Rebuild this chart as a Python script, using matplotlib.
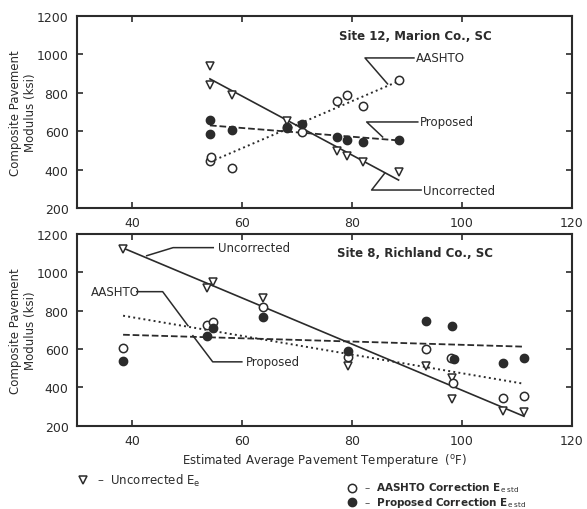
import matplotlib.pyplot as plt
from matplotlib.lines import Line2D

# Site 12, Marion Co., SC
s12_temp = [54.2, 54.2, 58.2, 68.2, 70.9, 77.3, 79.1, 82.0, 88.5]
s12_uncorr = [940, 840, 789, 653, 625, 497, 471, 440, 388]
s12_aashto_t = [54.2, 54.4, 58.2, 68.2, 70.9, 77.3, 79.1, 82.0, 88.5]
s12_aashto = [445, 465, 408, 620, 596, 757, 789, 731, 867]
s12_prop = [658, 585, 606, 617, 637, 570, 554, 544, 554]
s12_fit_x = [54.2, 88.5]
s12_fit_uncorr = [872, 346]
s12_fit_aashto = [440, 860]
s12_fit_prop = [630, 552]

# Site 8, Richland Co., SC
s8_tri_t = [38.4, 53.6, 54.7, 63.8, 79.3, 93.5, 98.2, 98.2, 107.5, 111.3]
s8_uncorr = [1122, 919, 950, 867, 512, 512, 450, 341, 278, 273]
s8_open_t = [38.4, 53.6, 54.7, 63.8, 79.3, 93.5, 98.0, 98.4, 107.5, 111.3]
s8_aashto = [606, 726, 740, 820, 560, 601, 554, 424, 346, 357]
s8_fill_t = [38.4, 53.6, 54.7, 63.8, 79.3, 93.5, 98.2, 98.6, 107.5, 111.3]
s8_prop = [539, 669, 710, 768, 591, 747, 721, 549, 528, 554]
s8_fit_x = [38.4, 111.3]
s8_fit_uncorr = [1125, 250]
s8_fit_aashto = [773, 419]
s8_fit_prop = [674, 612]

ink = "#2b2b2b"
plt.rcParams["font.family"] = "DejaVu Sans"

fig = plt.figure(figsize=(5.87, 5.10), dpi=100)
ax1 = fig.add_axes([0.131, 0.590, 0.843, 0.377])
ax2 = fig.add_axes([0.131, 0.163, 0.843, 0.377])


def style(ax):
    ax.set_xlim(30, 120)
    ax.set_ylim(200, 1200)
    ax.set_xticks([40, 60, 80, 100, 120])
    ax.set_yticks([200, 400, 600, 800, 1000, 1200])
    ax.tick_params(direction="in", length=4, width=1.2, top=True, right=True,
                   labelsize=9, colors=ink, pad=6)
    for s in ax.spines.values():
        s.set_linewidth(1.5)
        s.set_color(ink)
    ax.set_ylabel("Composite Pavement\nModulus (ksi)", fontsize=8.5, color=ink,
                  labelpad=0)


def leader(ax, pts, label, tx, ty):
    ax.plot([p[0] for p in pts], [p[1] for p in pts], color=ink, lw=1.1)
    ax.text(tx, ty, label, fontsize=8.5, color=ink, va="center", ha="left")


style(ax1)
ax1.plot(s12_fit_x, s12_fit_uncorr, "-", color=ink, lw=1.2)
ax1.plot(s12_fit_x, s12_fit_aashto, ":", color=ink, lw=1.4)
ax1.plot(s12_fit_x, s12_fit_prop, "--", color=ink, lw=1.3)
ax1.plot(s12_temp, s12_uncorr, "v", mfc="white", mec=ink, ms=6, mew=1.1)
ax1.plot(s12_aashto_t, s12_aashto, "o", mfc="white", mec=ink, ms=6, mew=1.1)
ax1.plot(s12_temp, s12_prop, "o", color=ink, ms=6)
ax1.text(91.6, 1096, "Site 12, Marion Co., SC", fontsize=8.5, color=ink,
         ha="center", va="center", fontweight="bold")
leader(ax1, [(86.5, 846), (82.4, 981), (91.3, 981)], "AASHTO", 91.6, 981)
leader(ax1, [(85.6, 570), (82.7, 648), (92.0, 648)], "Proposed", 92.4, 648)
leader(ax1, [(86.0, 382), (83.6, 294), (92.6, 294)], "Uncorrected", 92.9, 294)

style(ax2)
ax2.plot(s8_fit_x, s8_fit_uncorr, "-", color=ink, lw=1.2)
ax2.plot(s8_fit_x, s8_fit_aashto, ":", color=ink, lw=1.4)
ax2.plot(s8_fit_x, s8_fit_prop, "--", color=ink, lw=1.3)
ax2.plot(s8_tri_t, s8_uncorr, "v", mfc="white", mec=ink, ms=6, mew=1.1)
ax2.plot(s8_open_t, s8_aashto, "o", mfc="white", mec=ink, ms=6, mew=1.1)
ax2.plot(s8_fill_t, s8_prop, "o", color=ink, ms=6)
ax2.text(91.5, 1101, "Site 8, Richland Co., SC", fontsize=8.5, color=ink,
         ha="center", va="center", fontweight="bold")
leader(ax2, [(42.7, 1085), (47.5, 1127), (54.8, 1127)], "Uncorrected", 55.6, 1127)
leader(ax2, [(40.9, 898), (45.6, 898), (50.2, 721)], "AASHTO", 32.5, 898)
leader(ax2, [(51.1, 669), (54.7, 533), (60.0, 533)], "Proposed", 60.7, 533)
ax2.set_xlabel("Estimated Average Pavement Temperature  ($^{\\mathrm{o}}$F)",
               fontsize=8.5, color=ink, labelpad=3)

# key below the plots
fig.add_artist(Line2D([0.142], [0.057], transform=fig.transFigure,
                      marker="v", mfc="white", mec=ink, ms=6, mew=1.1, ls=""))
fig.text(0.165, 0.057, "\u2013  Uncorrected E$_{\\mathrm{e}}$", fontsize=8.5,
         color=ink, va="center")
fig.add_artist(Line2D([0.600], [0.042], transform=fig.transFigure,
                      marker="o", mfc="white", mec=ink, ms=6, mew=1.1, ls=""))
fig.text(0.620, 0.042, "\u2013  AASHTO Correction E$_{\\mathrm{e\\ std}}$",
         fontsize=7.5, color=ink, va="center", fontweight="bold")
fig.add_artist(Line2D([0.600], [0.014], transform=fig.transFigure,
                      marker="o", color=ink, ms=6, ls=""))
fig.text(0.620, 0.014, "\u2013  Proposed Correction E$_{\\mathrm{e\\ std}}$",
         fontsize=7.5, color=ink, va="center", fontweight="bold")

fig.savefig("out.png", dpi=100)
